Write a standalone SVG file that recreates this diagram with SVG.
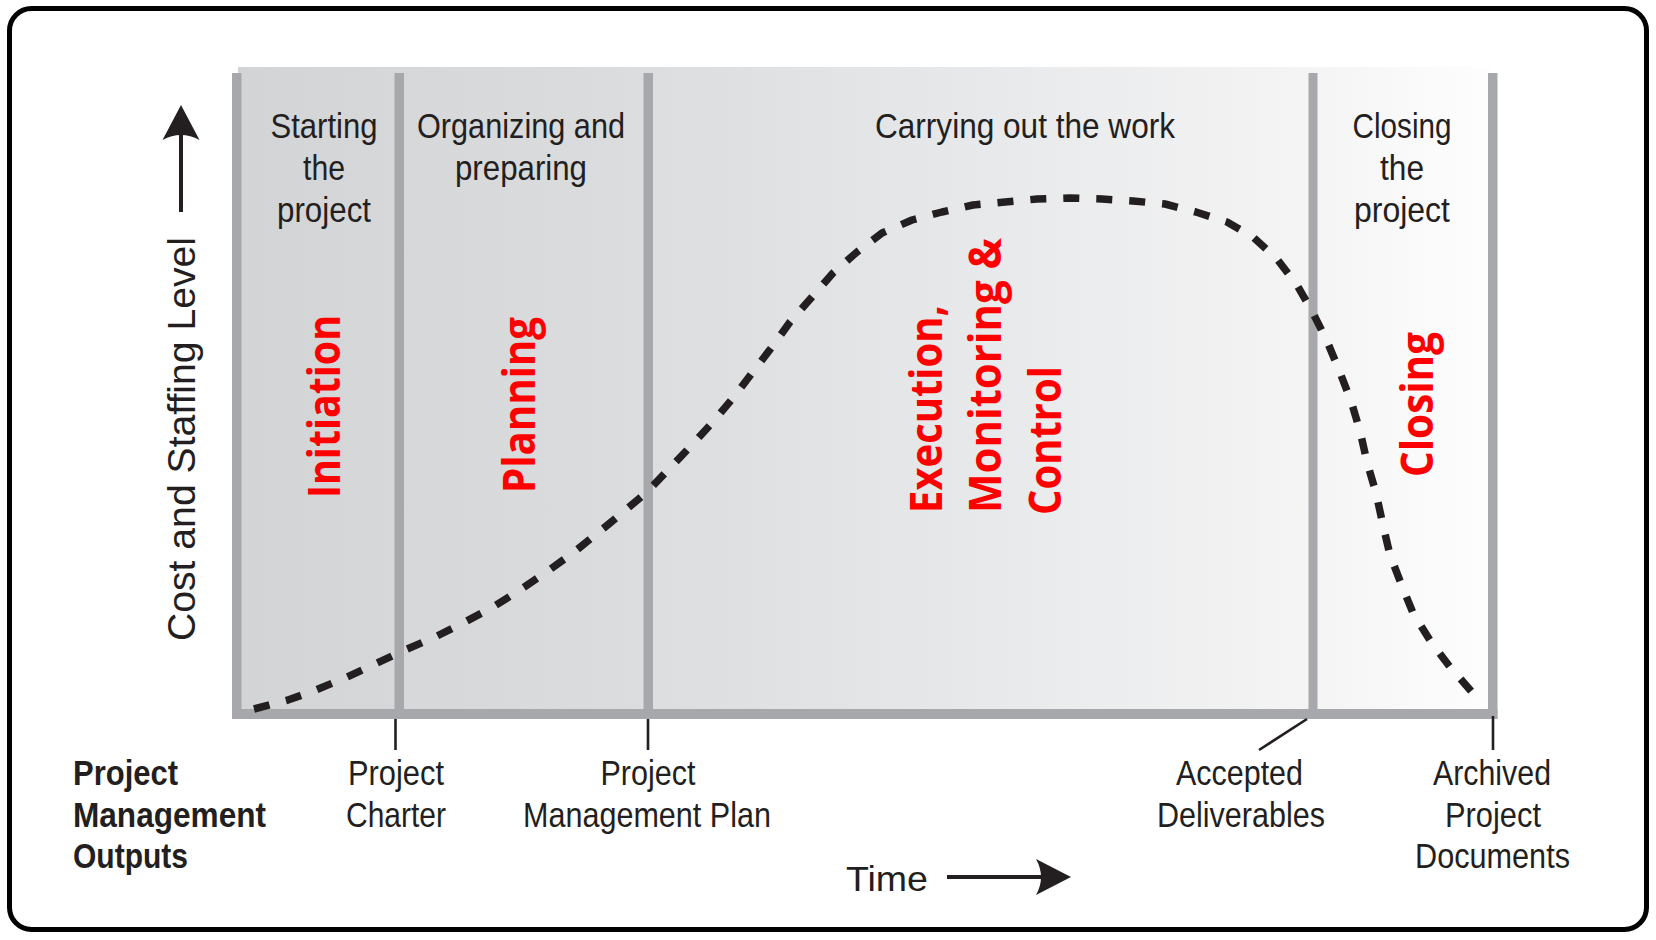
<svg xmlns="http://www.w3.org/2000/svg" width="1656" height="940" viewBox="0 0 1656 940">
  <defs>
    <linearGradient id="panelGrad" gradientUnits="userSpaceOnUse" x1="238" y1="0" x2="1495" y2="0">
      <stop offset="0" stop-color="#d3d4d6"/>
      <stop offset="0.3" stop-color="#dbdcde"/>
      <stop offset="0.6" stop-color="#e8e9ea"/>
      <stop offset="0.85" stop-color="#f4f4f5"/>
      <stop offset="1" stop-color="#fefefe"/>
    </linearGradient>
    <style>
      .lbl { font-family: "Liberation Sans Narrow", "Liberation Sans", Arial, sans-serif; font-size: 35px; fill: #231f20; text-anchor: middle; }
      .bold { font-weight: bold; text-anchor: start; }
      .red { font-family: "Open Sans", "DejaVu Sans", sans-serif; font-weight: bold; font-size: 45px; fill: #ff0000; }
      .axis { font-family: "Liberation Sans", Arial, sans-serif; font-size: 39px; fill: #231f20; }
      .bar { fill: #a7a8ab; }
      .tick { stroke: #231f20; stroke-width: 2.6; fill: none; }
      .arrowline { stroke: #231f20; stroke-width: 4; fill: none; }
      .arrowhead { fill: #231f20; }
      .curve { stroke: #231f20; stroke-width: 7.5; fill: none; stroke-dasharray: 16 17; stroke-linejoin: round; }
    </style>
  </defs>

  <rect x="0" y="0" width="1656" height="940" fill="#ffffff"/>
  <g id="frame">
    <rect x="9.5" y="8.5" width="1637" height="921" rx="22" ry="22" fill="#ffffff" stroke="#000000" stroke-width="5"/>
  </g>

  <g id="panel">
    <rect x="238" y="67" width="1255" height="645" fill="url(#panelGrad)"/>
    <rect class="bar" x="232" y="73" width="9.5" height="646"/>
    <rect class="bar" x="394.5" y="73" width="9.5" height="646"/>
    <rect class="bar" x="643.5" y="73" width="9.5" height="646"/>
    <rect class="bar" x="1308.5" y="73" width="9" height="646"/>
    <rect class="bar" x="1488" y="73" width="9.5" height="646"/>
    <rect class="bar" x="232" y="709" width="1265.5" height="10"/>
  </g>

  <g id="phase-initiation">
    <text class="lbl" x="324" y="138" textLength="107" lengthAdjust="spacingAndGlyphs">Starting</text>
    <text class="lbl" x="324" y="180" textLength="42" lengthAdjust="spacingAndGlyphs">the</text>
    <text class="lbl" x="324" y="222" textLength="94" lengthAdjust="spacingAndGlyphs">project</text>
    <text class="red" transform="translate(340,406.5) rotate(-90)" text-anchor="middle" textLength="183" lengthAdjust="spacingAndGlyphs">Initiation</text>
  </g>

  <g id="phase-planning">
    <text class="lbl" x="521" y="138" textLength="208" lengthAdjust="spacingAndGlyphs">Organizing and</text>
    <text class="lbl" x="521" y="180" textLength="132" lengthAdjust="spacingAndGlyphs">preparing</text>
    <text class="red" transform="translate(535,405) rotate(-90)" text-anchor="middle" textLength="176" lengthAdjust="spacingAndGlyphs">Planning</text>
  </g>

  <g id="phase-execution">
    <text class="lbl" x="1025" y="138" textLength="300" lengthAdjust="spacingAndGlyphs">Carrying out the work</text>
    <text class="red" transform="translate(942,513) rotate(-90)" text-anchor="start" textLength="208" lengthAdjust="spacingAndGlyphs">Execution,</text>
    <text class="red" transform="translate(1001,513) rotate(-90)" text-anchor="start" textLength="275" lengthAdjust="spacingAndGlyphs">Monitoring &amp;</text>
    <text class="red" transform="translate(1061,515) rotate(-90)" text-anchor="start" textLength="149" lengthAdjust="spacingAndGlyphs">Control</text>
  </g>

  <g id="phase-closing">
    <text class="lbl" x="1402" y="138" textLength="99" lengthAdjust="spacingAndGlyphs">Closing</text>
    <text class="lbl" x="1402" y="180" textLength="44" lengthAdjust="spacingAndGlyphs">the</text>
    <text class="lbl" x="1402" y="222" textLength="96" lengthAdjust="spacingAndGlyphs">project</text>
    <text class="red" transform="translate(1433,404.5) rotate(-90)" text-anchor="middle" textLength="145" lengthAdjust="spacingAndGlyphs">Closing</text>
  </g>

  <g id="y-axis">
    <text class="axis" transform="translate(195,439) rotate(-90)" text-anchor="middle" textLength="404" lengthAdjust="spacingAndGlyphs">Cost and Staffing Level</text>
  </g>

  <g id="x-axis">
    <text class="lbl" x="846" y="891" style="text-anchor:start" font-size="36" textLength="82" lengthAdjust="spacingAndGlyphs">Time</text>
  </g>

  <g id="outputs-title">
    <text class="lbl bold" x="73" y="785" textLength="105" lengthAdjust="spacingAndGlyphs">Project</text>
    <text class="lbl bold" x="73" y="827" textLength="193" lengthAdjust="spacingAndGlyphs">Management</text>
    <text class="lbl bold" x="73" y="868" textLength="115" lengthAdjust="spacingAndGlyphs">Outputs</text>
  </g>

  <g id="output-charter">
    <text class="lbl" x="396" y="785" textLength="96" lengthAdjust="spacingAndGlyphs">Project</text>
    <text class="lbl" x="396" y="827" textLength="100" lengthAdjust="spacingAndGlyphs">Charter</text>
  </g>

  <g id="output-plan">
    <text class="lbl" x="648" y="785" textLength="95" lengthAdjust="spacingAndGlyphs">Project</text>
    <text class="lbl" x="647" y="827" textLength="248" lengthAdjust="spacingAndGlyphs">Management Plan</text>
  </g>

  <g id="output-deliverables">
    <text class="lbl" x="1239.5" y="785" textLength="127" lengthAdjust="spacingAndGlyphs">Accepted</text>
    <text class="lbl" x="1241" y="827" textLength="168" lengthAdjust="spacingAndGlyphs">Deliverables</text>
  </g>

  <g id="output-archived">
    <text class="lbl" x="1492" y="785" textLength="118" lengthAdjust="spacingAndGlyphs">Archived</text>
    <text class="lbl" x="1493" y="827" textLength="96" lengthAdjust="spacingAndGlyphs">Project</text>
    <text class="lbl" x="1492.5" y="868" textLength="155" lengthAdjust="spacingAndGlyphs">Documents</text>
  </g>

  <g id="connectors">
    <line class="tick" x1="395.5" y1="719" x2="395.5" y2="750"/>
    <line class="tick" x1="648" y1="719" x2="648" y2="750"/>
    <line class="tick" x1="1307" y1="719" x2="1259" y2="750"/>
    <line class="tick" x1="1493" y1="716" x2="1493" y2="750"/>
    <line class="arrowline" x1="181" y1="212" x2="181" y2="132"/>
    <path class="arrowhead" d="M181,105 L199.5,140 Q181,130 162.5,140 Z"/>
    <line class="arrowline" x1="947" y1="877" x2="1043" y2="877"/>
    <path class="arrowhead" d="M1071,877 L1036,859 Q1046,877 1036,895 Z"/>
    <path class="curve" d="M254,709 L288,700 L316,690 L347,677 L377,663 L405,650 L435,637 L465,622 L493,607 L520,590 L545,573 L573,553 L610,523 L647,492 L668,470 L690,447 L712,423 L733,398 L752,373 L772,347 L790,322 L812,297 L833,273 L857,252 L882,233 L912,220 L942,212 L973,205 L1005,202 L1037,199 L1070,198 L1102,199 L1133,201 L1165,204 L1196,212 L1227,222 L1253,237 L1277,259 L1297,285 L1313,313 L1327,341 L1339,370 L1351,401 L1360,431 L1367,462 L1376,493 L1383,525 L1390,555 L1402,586 L1413,613 L1431,642 L1450,667 L1471,691 L1478,699"/>
  </g>
</svg>
